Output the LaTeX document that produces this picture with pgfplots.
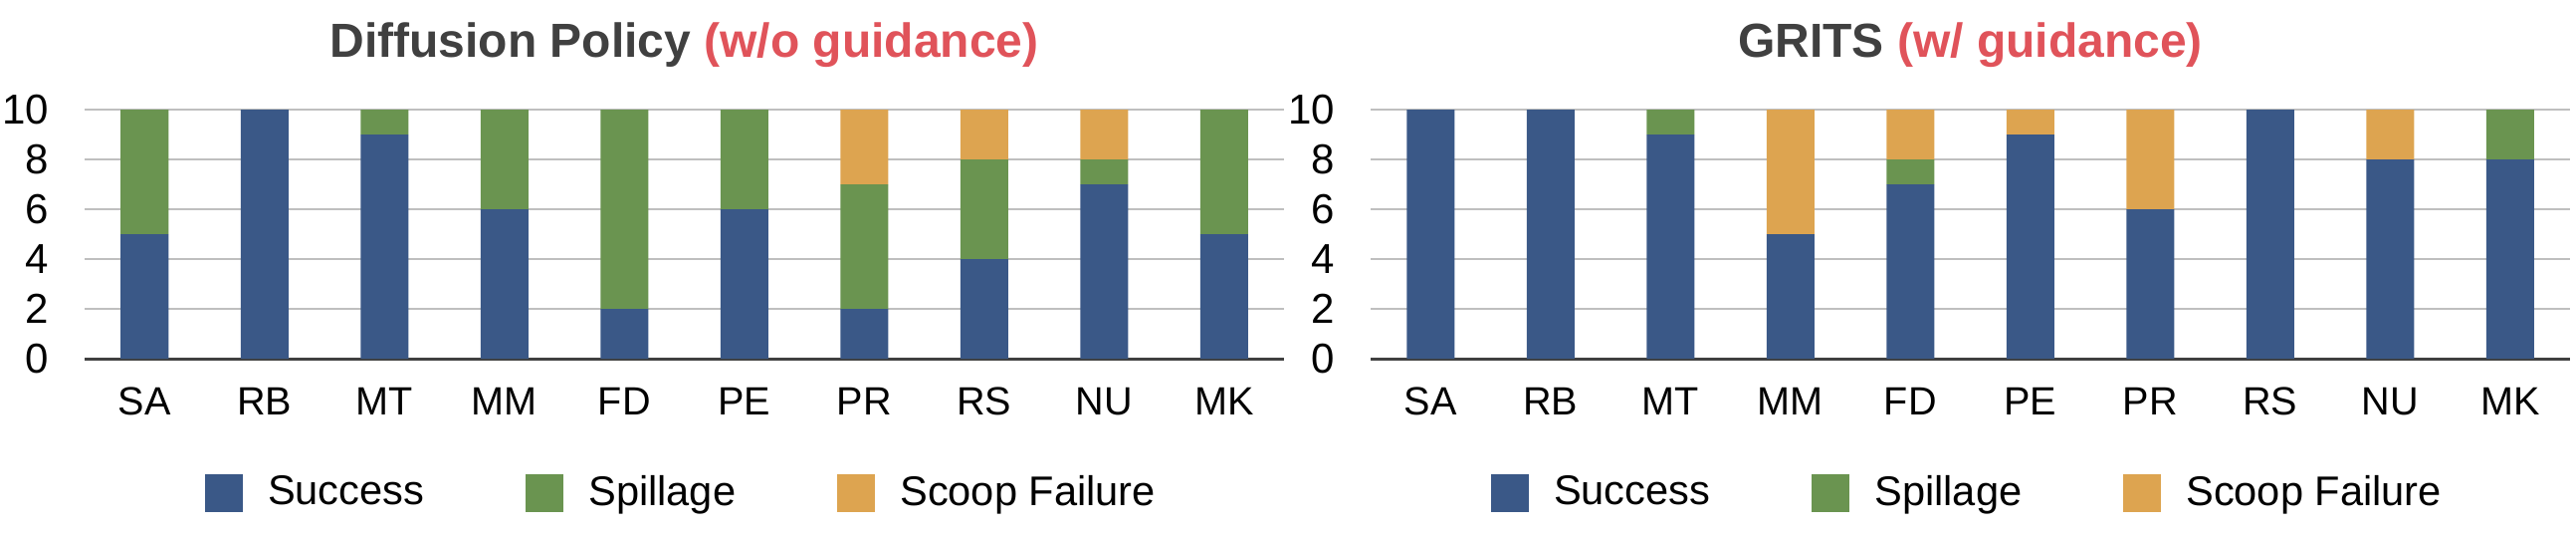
\documentclass[border=0pt]{standalone}
\usepackage{fontspec}
\setmainfont{Liberation Sans}
\usepackage{pgfplots}
\pgfplotsset{compat=1.18}
\definecolor{succ}{HTML}{3A5887}
\definecolor{spill}{HTML}{6A9450}
\definecolor{scoop}{HTML}{DDA450}
\definecolor{titlegray}{HTML}{404040}
\definecolor{titlered}{HTML}{E0535A}
\definecolor{gridgray}{HTML}{BFBFBF}

\pgfplotsset{panel/.style={
  scale only axis, width=301.25pt, height=62.5pt,
  anchor=south west,
  ybar stacked, bar width=12pt,
  xmin=-0.5, xmax=9.5, ymin=0, ymax=10,
  xtick={0,...,9}, xticklabels={SA,RB,MT,MM,FD,PE,PR,RS,NU,MK},
  ytick={0,2,...,10},
  ymajorgrids, grid style={gridgray, line width=0.5pt},
  axis x line*=bottom, axis y line*=left,
  y axis line style={draw=none},
  x axis line style={titlegray, line width=0.75pt, -},
  major tick length=0pt,
  /pgf/number format/assume math mode=true,
  tick label style={font=\fontsize{10.5}{13}\selectfont, inner sep=0pt},
  yticklabel style={anchor=east, xshift=-8.75pt},
  xticklabel style={anchor=center, yshift=-10.75pt, font=\fontsize{9.9}{12}\selectfont},
  title style={anchor=base, at={(0.5,1)}, yshift=7.2pt, text=titlegray,
    font=\bfseries\fontsize{12}{14}\selectfont},
  legend columns=3,
  legend style={draw=none, at={(0.5,-0.54)}, anchor=center,
    font=\fontsize{10.4}{13}\selectfont,
    /tikz/every even column/.append style={column sep=23.5pt}},
  legend image code/.code={\fill[##1] (0pt,-4.75pt) rectangle (9.5pt,4.75pt);},
}}

\begin{document}
\begin{tikzpicture}
\useasboundingbox (0,0) rectangle (647pt,134.5pt);
% left: without guidance
\begin{axis}[panel, at={(21.25pt,44.5pt)},
  title={Diffusion Policy {\color{titlered}(w/o guidance)}}]
\addplot[fill=succ, draw=none] coordinates {(0,5) (1,10) (2,9) (3,6) (4,2) (5,6) (6,2) (7,4) (8,7) (9,5)};
\addplot[fill=spill, draw=none] coordinates {(0,5) (1,0) (2,1) (3,4) (4,8) (5,4) (6,5) (7,4) (8,1) (9,5)};
\addplot[fill=scoop, draw=none] coordinates {(0,0) (1,0) (2,0) (3,0) (4,0) (5,0) (6,3) (7,2) (8,2) (9,0)};
\legend{\hspace{4.25pt}Success,\hspace{4.25pt}Spillage,\hspace{4.25pt}Scoop Failure}
\end{axis}
% right: with guidance
\begin{axis}[panel, at={(344.25pt,44.5pt)},
  title={GRITS {\color{titlered}(w/ guidance)}}]
\addplot[fill=succ, draw=none] coordinates {(0,10) (1,10) (2,9) (3,5) (4,7) (5,9) (6,6) (7,10) (8,8) (9,8)};
\addplot[fill=spill, draw=none] coordinates {(0,0) (1,0) (2,1) (3,0) (4,1) (5,0) (6,0) (7,0) (8,0) (9,2)};
\addplot[fill=scoop, draw=none] coordinates {(0,0) (1,0) (2,0) (3,5) (4,2) (5,1) (6,4) (7,0) (8,2) (9,0)};
\legend{\hspace{4.25pt}Success,\hspace{4.25pt}Spillage,\hspace{4.25pt}Scoop Failure}
\end{axis}
\end{tikzpicture}
\end{document}
